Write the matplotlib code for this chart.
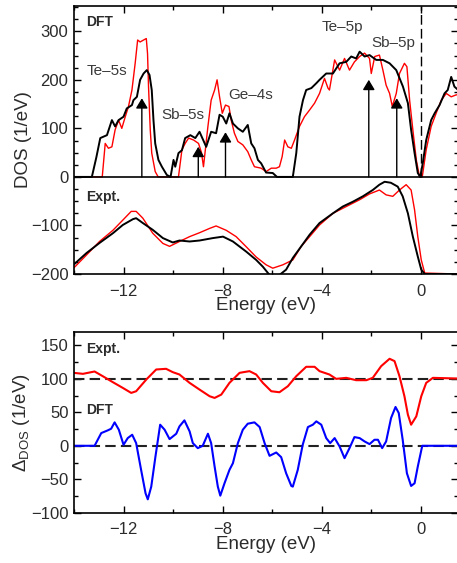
import numpy as np
import matplotlib.pyplot as plt
from matplotlib.ticker import MultipleLocator

plt.rcParams['font.family'] = ['Liberation Sans', 'DejaVu Sans']
plt.rcParams['axes.unicode_minus'] = True
plt.rcParams['mathtext.fontset'] = 'custom'
plt.rcParams['mathtext.rm'] = 'Liberation Sans'
plt.rcParams['mathtext.it'] = 'Liberation Sans:italic'

# DFT density of states, two calculations (black / red)
dft_black_e = [-14.0, -13.28, -13.1, -12.94, -12.67, -12.47, -12.34, -12.2, -12.0, -11.87, -11.66,
               -11.6, -11.46, -11.33, -11.19, -11.06, -10.95, -10.86, -10.79, -10.72, -10.59,
               -10.45, -10.25, -10.1, -9.98, -9.91, -9.78, -9.64, -9.51, -9.3, -9.1, -8.93,
               -8.66, -8.46, -8.26, -8.12, -7.99, -7.85, -7.72, -7.58, -7.38, -7.18, -6.98,
               -6.84, -6.71, -6.57, -6.44, -6.24, -5.97, -5.8, -5.16, -5.02, -4.89, -4.75,
               -4.62, -4.41, -4.21, -4.08, -3.81, -3.54, -3.27, -3.0, -2.8, -2.6, -2.46, -2.26,
               -2.06, -1.79, -1.52, -1.25, -0.98, -0.71, -0.51, -0.38, -0.24, -0.11, -0.01,
               0.09, 0.23, 0.43, 0.57, 0.77, 0.97, 1.1, 1.24, 1.37, 1.5]
dft_black = [0, 0, 40, 80, 86, 117, 104, 117, 124, 141, 148,
             158, 165, 200, 213, 220, 210, 179, 117, 69, 35,
             21, 4, 0, 35, 21, 49, 55, 80, 86, 80, 93,
             62, 93, 90, 128, 124, 110, 131, 110, 100, 93, 107,
             69, 59, 35, 28, 9, 8, 0, 0, 49, 124, 158,
             179, 183, 193, 200, 213, 213, 234, 237, 248, 244, 258, 248,
             251, 241, 241, 234, 220, 186, 152, 97, 49, 8, 0,
             28, 76, 117, 131, 148, 172, 179, 206, 186, 180]

dft_red_e = [-14.0, -12.86, -12.74, -12.61, -12.47, -12.34, -12.2, -12.07, -11.93, -11.8, -11.66,
             -11.53, -11.43, -11.33, -11.19, -11.08, -11.03, -10.99, -10.92, -10.86, -10.72,
             -10.6, -9.78, -9.64, -9.51, -9.37, -9.17, -8.97, -8.85, -8.77, -8.59, -8.46,
             -8.32, -8.22, -8.12, -8.01, -7.88, -7.74, -7.65, -7.52, -7.38, -7.18, -6.98,
             -6.84, -6.71, -6.44, -6.24, -6.03, -5.83, -5.7, -5.59, -5.49, -5.36, -5.22,
             -5.09, -4.89, -4.69, -4.48, -4.28, -4.08, -3.88, -3.74, -3.68, -3.47, -3.27,
             -3.07, -2.87, -2.67, -2.46, -2.26, -2.06, -1.99, -1.85, -1.66, -1.52, -1.39,
             -1.25, -1.14, -0.98, -0.85, -0.65, -0.55, -0.44, -0.31, -0.17, -0.04, 0.07,
             0.23, 0.43, 0.63, 0.84, 1.04, 1.24, 1.44, 1.5]
dft_red = [0, 0, 69, 59, 62, 97, 117, 100, 124, 145, 179,
           234, 282, 278, 282, 285, 254, 186, 97, 49, 11,
           0, 0, 56, 69, 80, 76, 69, 50, 21, 104, 158,
           179, 200, 165, 131, 148, 145, 117, 90, 73, 66, 52,
           35, 21, 18, 11, 18, 18, 21, 42, 76, 62, 59,
           76, 104, 124, 138, 152, 172, 203, 183, 179, 241, 220,
           244, 220, 237, 248, 255, 244, 213, 248, 251, 220, 189,
           172, 145, 172, 213, 234, 227, 158, 97, 35, 0, 0,
           56, 104, 131, 158, 172, 165, 169, 169]

# photoemission spectra, drawn 200 below the DFT curves
expt_offset = -200
expt_black_e = [-14.02, -13.5, -12.97, -12.43, -12.03, -11.62, -11.49, -11.22, -10.82, -10.41,
                -10.01, -9.74, -9.33, -8.93, -8.39, -7.98, -7.58, -7.04, -6.64, -6.37, -6.1,
                -5.7, -5.43, -5.16, -4.82, -4.48, -4.08, -3.54, -3.14, -2.73, -2.33, -1.93,
                -1.66, -1.45, -1.2, -0.92, -0.72, -0.51, -0.31, -0.11, 0.03, 0.17, 1.5]
expt_black = [19, 43, 64, 84, 101, 113, 115, 105, 91, 74,
              65, 69, 67, 69, 74, 77, 67, 46, 29, 15, -2,
              -2, 9, 33, 57, 81, 105, 125, 139, 149, 160, 173,
              184, 190, 188, 180, 160, 125, 77, 36, 9, 0, 0]
expt_red_e = [-14.02, -13.5, -12.97, -12.43, -12.03, -11.69, -11.49, -11.22, -10.82, -10.41,
              -10.14, -9.74, -9.33, -8.93, -8.52, -8.26, -7.85, -7.45, -7.04, -6.64, -6.24,
              -5.97, -5.56, -5.16, -4.82, -4.48, -4.08, -3.54, -3.0, -2.46, -2.06, -1.66,
              -1.39, -1.12, -0.85, -0.58, -0.38, -0.24, -0.11, 0.03, 0.17, 1.5]
expt_red = [12, 39, 67, 90, 111, 129, 129, 115, 84, 63,
            57, 67, 77, 85, 94, 99, 90, 77, 56, 35, 19,
            12, 19, 29, 57, 77, 101, 125, 139, 153, 165, 173,
            163, 160, 173, 184, 173, 132, 77, 29, 2, 0]

# arrow positions (eV) and tip heights
arrow_e = [-11.26, -8.98, -7.88, -2.09, -0.96]
arrow_tip = [162, 62, 92, 200, 162]

labels = ['Te\u20135s', 'Sb\u20135s', 'Ge\u20134s', 'Te\u20135p', 'Sb\u20135p']
label_x = [-13.5, -10.46, -7.75, -4.01, -1.99]
label_y = [218, 128, 169, 309, 276]

# difference curves
dexpt_e = [-14.02, -13.64, -13.17, -12.84, -12.43, -12.03, -11.69, -11.49, -11.08, -10.68,
           -10.28, -10.01, -9.74, -9.33, -8.93, -8.52, -8.32, -8.05, -7.72, -7.31, -6.91,
           -6.64, -6.37, -6.03, -5.7, -5.36, -5.02, -4.62, -4.28, -4.08, -3.68, -3.41,
           -3.0, -2.6, -2.19, -1.93, -1.59, -1.25, -1.05, -0.85, -0.65, -0.51, -0.38,
           -0.17, 0.03, 0.23, 0.5, 1.0, 1.5]
dexpt = [109, 107.5, 111, 104, 95, 86.5, 79, 81.5, 99, 114,
         115, 110, 106.5, 94, 84, 74, 71.5, 76.5, 94, 109, 111.5,
         106.5, 94, 81.5, 80, 89, 104, 118, 118, 111.5, 106.5, 100,
         101.5, 98, 98, 101.5, 119, 130, 126.5, 104, 74, 46.5, 31.5,
         44, 74, 94, 101.5, 101, 100.5]

ddft_e = [-14.02, -13.17, -12.9, -12.64, -12.5, -12.36, -12.19, -12.0, -11.83, -11.65, -11.49,
          -11.29, -11.11, -11.02, -10.88, -10.71, -10.52, -10.34, -10.14, -9.87, -9.74,
          -9.54, -9.33, -9.2, -9.0, -8.8, -8.59, -8.46, -8.32, -8.19, -8.09, -7.92, -7.72,
          -7.58, -7.38, -7.18, -6.98, -6.71, -6.5, -6.3, -6.1, -5.83, -5.63, -5.43, -5.22,
          -5.16, -4.96, -4.76, -4.55, -4.35, -4.21, -4.01, -3.81, -3.65, -3.47, -3.27,
          -3.07, -2.87, -2.67, -2.46, -2.26, -2.06, -1.86, -1.72, -1.55, -1.39, -1.19,
          -1.01, -0.88, -0.72, -0.55, -0.38, -0.24, -0.11, 0.07, 1.5]
ddft = [0, 0, 19, 23, 25.5, 35, 24, 1.5, 11.5, 16.5, 4,
        -36, -71, -80, -61, -16, 31.5, 24, 10, 18, 29,
        38, 21.5, 4, -3.5, 0, 18, 4, -31, -61, -74.5, -56, -36,
        -26, 4, 24, 33, 35, 28, 4, -15, -10, -17, -41, -60,
        -61, -36, 1.5, 28, 31.5, 36.5, 31.5, 11.5, 4, 11.5, -1,
        -18.5, -3.5, 13, 11.5, 6.5, 2.5, 9, 9, -3.5, 6.5, 41.5,
        58, 49, 9, -41, -60, -56, -31, 0, 0]

txt = '#2b2b2b'
fig = plt.figure(figsize=(4.57, 5.63), dpi=100)
ax1 = fig.add_axes([0.162, 0.5133, 0.8394, 0.476])
ax2 = fig.add_axes([0.162, 0.0893, 0.8394, 0.321])

for ax in (ax1, ax2):
    ax.set_xlim(-14, 1.5)
    ax.xaxis.set_major_locator(MultipleLocator(4))
    ax.xaxis.set_minor_locator(MultipleLocator(2))
    ax.tick_params(which='both', direction='in', top=True, right=True,
                   labelsize=12, labelcolor=txt, width=1.0, pad=4)
    ax.tick_params(which='major', length=5)
    ax.tick_params(which='minor', length=3)
    ax.tick_params(axis='x', pad=7)
    for s in ax.spines.values():
        s.set_linewidth(1.2)
    ax.set_xlabel('Energy (eV)', fontsize=13.5, color=txt, labelpad=-1)

# top panel: DOS
ax1.set_ylim(-200, 352)
ax1.yaxis.set_major_locator(MultipleLocator(100))
ax1.yaxis.set_minor_locator(MultipleLocator(25))
ax1.plot(dft_red_e, dft_red, color='red', lw=1.0)
ax1.plot(dft_black_e, dft_black, color='black', lw=1.4)
ax1.plot(expt_red_e, np.array(expt_red) + expt_offset, color='red', lw=1.0)
ax1.plot(expt_black_e, np.array(expt_black) + expt_offset, color='black', lw=1.4)
ax1.axhline(0, color='black', lw=1.2)
ax1.plot([0, 0], [0, 352], color='black', lw=1.0, dashes=(7, 3))
for e, tip in zip(arrow_e, arrow_tip):
    ax1.annotate('', xy=(e, tip), xytext=(e, 0),
                 arrowprops=dict(arrowstyle='-|>,head_length=0.6,head_width=0.36',
                                 mutation_scale=10, color='black', lw=1.0,
                                 shrinkA=0, shrinkB=0))
for s, x, y in zip(labels, label_x, label_y):
    ax1.text(x, y, s, fontsize=11, color='#3a3a3a', va='center', ha='left')
ax1.text(-13.5, 320, 'DFT', fontsize=10, fontweight='bold', color=txt, va='center')
ax1.text(-13.5, -42, 'Expt.', fontsize=10, fontweight='bold', color=txt, va='center')
ax1.set_ylabel('DOS (1/eV)', fontsize=13.5, color=txt)
ax1.yaxis.set_label_coords(-0.11, 0.5)

# bottom panel: differences
ax2.set_ylim(-100, 170)
ax2.yaxis.set_major_locator(MultipleLocator(50))
ax2.yaxis.set_minor_locator(MultipleLocator(25))
ax2.axhline(100, color='#222222', lw=1.5, dashes=(5, 2.5))
ax2.axhline(0, color='#222222', lw=1.5, dashes=(5, 2.5))
ax2.plot(dexpt_e, dexpt, color='red', lw=1.5)
ax2.plot(ddft_e, ddft, color='blue', lw=1.5)
ax2.text(-13.5, 145, 'Expt.', fontsize=10, fontweight='bold', color=txt, va='center')
ax2.text(-13.5, 54, 'DFT', fontsize=10, fontweight='bold', color=txt, va='center')
ax2.set_ylabel(r'$\Delta_{\mathrm{DOS}}$ (1/eV)', fontsize=13.5, color=txt)
ax2.yaxis.set_label_coords(-0.11, 0.5)

fig.savefig('out.png', dpi=100)
